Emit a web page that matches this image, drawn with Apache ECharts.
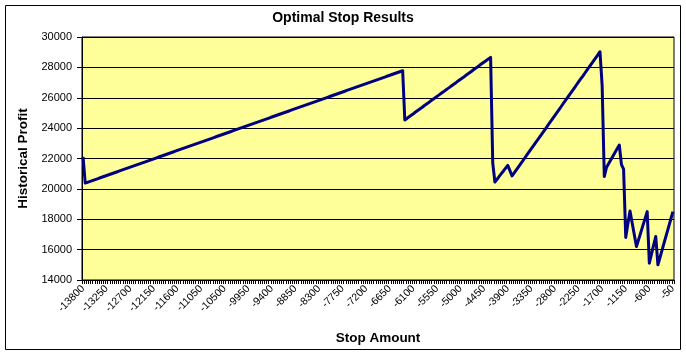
<!DOCTYPE html>
<html>
<head>
<meta charset="utf-8">
<script src="https://cdn.jsdelivr.net/npm/echarts@6/dist/echarts.min.js"></script>
<style>
html,body{margin:0;padding:0;background:#fff;}
#chart{width:686px;height:355px;}
</style>
</head>
<body>
<div id="chart"></div>
<script>
// Stop amount categories (step 50)
var categories = [
-13800,-13750,-13700,-13650,-13600,-13550,-13500,-13450,-13400,-13350,
-13300,-13250,-13200,-13150,-13100,-13050,-13000,-12950,-12900,-12850,
-12800,-12750,-12700,-12650,-12600,-12550,-12500,-12450,-12400,-12350,
-12300,-12250,-12200,-12150,-12100,-12050,-12000,-11950,-11900,-11850,
-11800,-11750,-11700,-11650,-11600,-11550,-11500,-11450,-11400,-11350,
-11300,-11250,-11200,-11150,-11100,-11050,-11000,-10950,-10900,-10850,
-10800,-10750,-10700,-10650,-10600,-10550,-10500,-10450,-10400,-10350,
-10300,-10250,-10200,-10150,-10100,-10050,-10000,-9950,-9900,-9850,
-9800,-9750,-9700,-9650,-9600,-9550,-9500,-9450,-9400,-9350,
-9300,-9250,-9200,-9150,-9100,-9050,-9000,-8950,-8900,-8850,
-8800,-8750,-8700,-8650,-8600,-8550,-8500,-8450,-8400,-8350,
-8300,-8250,-8200,-8150,-8100,-8050,-8000,-7950,-7900,-7850,
-7800,-7750,-7700,-7650,-7600,-7550,-7500,-7450,-7400,-7350,
-7300,-7250,-7200,-7150,-7100,-7050,-7000,-6950,-6900,-6850,
-6800,-6750,-6700,-6650,-6600,-6550,-6500,-6450,-6400,-6350,
-6300,-6250,-6200,-6150,-6100,-6050,-6000,-5950,-5900,-5850,
-5800,-5750,-5700,-5650,-5600,-5550,-5500,-5450,-5400,-5350,
-5300,-5250,-5200,-5150,-5100,-5050,-5000,-4950,-4900,-4850,
-4800,-4750,-4700,-4650,-4600,-4550,-4500,-4450,-4400,-4350,
-4300,-4250,-4200,-4150,-4100,-4050,-4000,-3950,-3900,-3850,
-3800,-3750,-3700,-3650,-3600,-3550,-3500,-3450,-3400,-3350,
-3300,-3250,-3200,-3150,-3100,-3050,-3000,-2950,-2900,-2850,
-2800,-2750,-2700,-2650,-2600,-2550,-2500,-2450,-2400,-2350,
-2300,-2250,-2200,-2150,-2100,-2050,-2000,-1950,-1900,-1850,
-1800,-1750,-1700,-1650,-1600,-1550,-1500,-1450,-1400,-1350,
-1300,-1250,-1200,-1150,-1100,-1050,-1000,-950,-900,-850,
-800,-750,-700,-650,-600,-550,-500,-450,-400,-350,
-300,-250,-200,-150,-100,-50
];

// Historical profit per stop amount
var profit = [
22100,20380,20430,20480,20530,20580,20630,20680,20730,20780,
20830,20880,20930,20980,21030,21080,21130,21180,21230,21280,
21330,21380,21430,21480,21530,21580,21630,21680,21730,21780,
21830,21880,21930,21980,22030,22080,22130,22180,22230,22280,
22330,22380,22430,22480,22530,22580,22630,22680,22730,22780,
22830,22880,22930,22980,23030,23080,23130,23180,23230,23280,
23330,23380,23430,23480,23530,23580,23630,23680,23730,23780,
23830,23880,23930,23980,24030,24080,24130,24180,24230,24280,
24330,24380,24430,24480,24530,24580,24630,24680,24730,24780,
24830,24880,24930,24980,25030,25080,25130,25180,25230,25280,
25330,25380,25430,25480,25530,25580,25630,25680,25730,25780,
25830,25880,25930,25980,26030,26080,26130,26180,26230,26280,
26330,26380,26430,26480,26530,26580,26630,26680,26730,26780,
26830,26880,26930,26980,27030,27080,27130,27180,27230,27280,
27330,27380,27430,27480,27530,27580,27630,27680,27730,27780,
24540,24640,24750,24850,24950,25060,25160,25260,25360,25470,
25570,25670,25780,25880,25980,26090,26190,26290,26390,26500,
26600,26700,26810,26910,27010,27120,27220,27320,27420,27530,
27630,27730,27840,27940,28040,28150,28250,28350,28450,28560,
28660,21700,20450,20630,20820,21000,21180,21370,21550,21200,
20850,21050,21250,21450,21650,21850,22050,22250,22450,22650,
22850,23050,23240,23440,23640,23840,24040,24240,24440,24640,
24840,25040,25240,25440,25640,25840,26040,26240,26440,26640,
26840,27040,27240,27430,27630,27830,28030,28230,28430,28630,
28830,29030,26800,20810,21400,21650,21900,22150,22400,22650,
22890,21600,21300,16800,17700,18550,17750,16980,16200,16660,
17120,17580,18040,18500,15110,15700,16300,16860,15000,15500,
16000,16500,17000,17500,18000,18500
];

var yTicks = [14000,16000,18000,20000,22000,24000,26000,28000,30000];

var chart = echarts.init(document.getElementById('chart'), null, {renderer:'canvas'});
var font = 'Arial, "Liberation Sans", sans-serif';
chart.setOption({
  animation: false,
  backgroundColor: '#ffffff',
  textStyle: {fontFamily: font},
  title: {
    text: 'Optimal Stop Results',
    left: 'center',
    top: 11,
    padding: 0,
    textStyle: {fontFamily: font, fontSize: 14, fontWeight: 'bold', color: '#000'}
  },
  graphic: [{
    type: 'rect',
    shape: {x: 5.5, y: 5.5, width: 675, height: 344},
    style: {fill: 'none', stroke: '#000', lineWidth: 1},
    silent: true,
    z: 100
  }],
  grid: {
    left: 82, right: 12, top: 37, bottom: 75,
    show: true,
    backgroundColor: '#FFFF99',
    borderColor: '#000',
    borderWidth: 1,
    containLabel: false
  },
  xAxis: {
    type: 'category',
    data: categories,
    boundaryGap: true,
    name: 'Stop Amount',
    nameLocation: 'middle',
    nameGap: 51,
    nameTextStyle: {fontFamily: font, fontSize: 13.5, fontWeight: 'bold', color: '#000'},
    axisLine: {show: true, lineStyle: {color: '#000', width: 1}},
    axisTick: {show: true, interval: 0, length: 4, alignWithLabel: false, lineStyle: {color: '#000'}},
    axisLabel: {interval: 10, rotate: 45, margin: 7, fontSize: 10.5, color: '#000', fontFamily: font},
    splitLine: {show: false}
  },
  yAxis: {
    type: 'value',
    min: yTicks[0],
    max: yTicks[yTicks.length - 1],
    interval: 2000,
    name: 'Historical Profit',
    nameLocation: 'middle',
    nameGap: 45,
    nameTextStyle: {fontFamily: font, fontSize: 13.5, fontWeight: 'bold', color: '#000'},
    axisLine: {show: true, lineStyle: {color: '#000', width: 1}},
    axisTick: {show: true, length: 5, lineStyle: {color: '#000'}},
    axisLabel: {margin: 10, fontSize: 11, color: '#000', fontFamily: font,
      formatter: function (v) { return String(v); }},
    splitLine: {show: true, lineStyle: {color: '#000', width: 1}}
  },
  series: [{
    type: 'line',
    data: profit,
    symbol: 'none',
    showSymbol: false,
    lineStyle: {color: '#000080', width: 3, join: 'round'},
    itemStyle: {color: '#000080'}
  }]
});
</script>
</body>
</html>
